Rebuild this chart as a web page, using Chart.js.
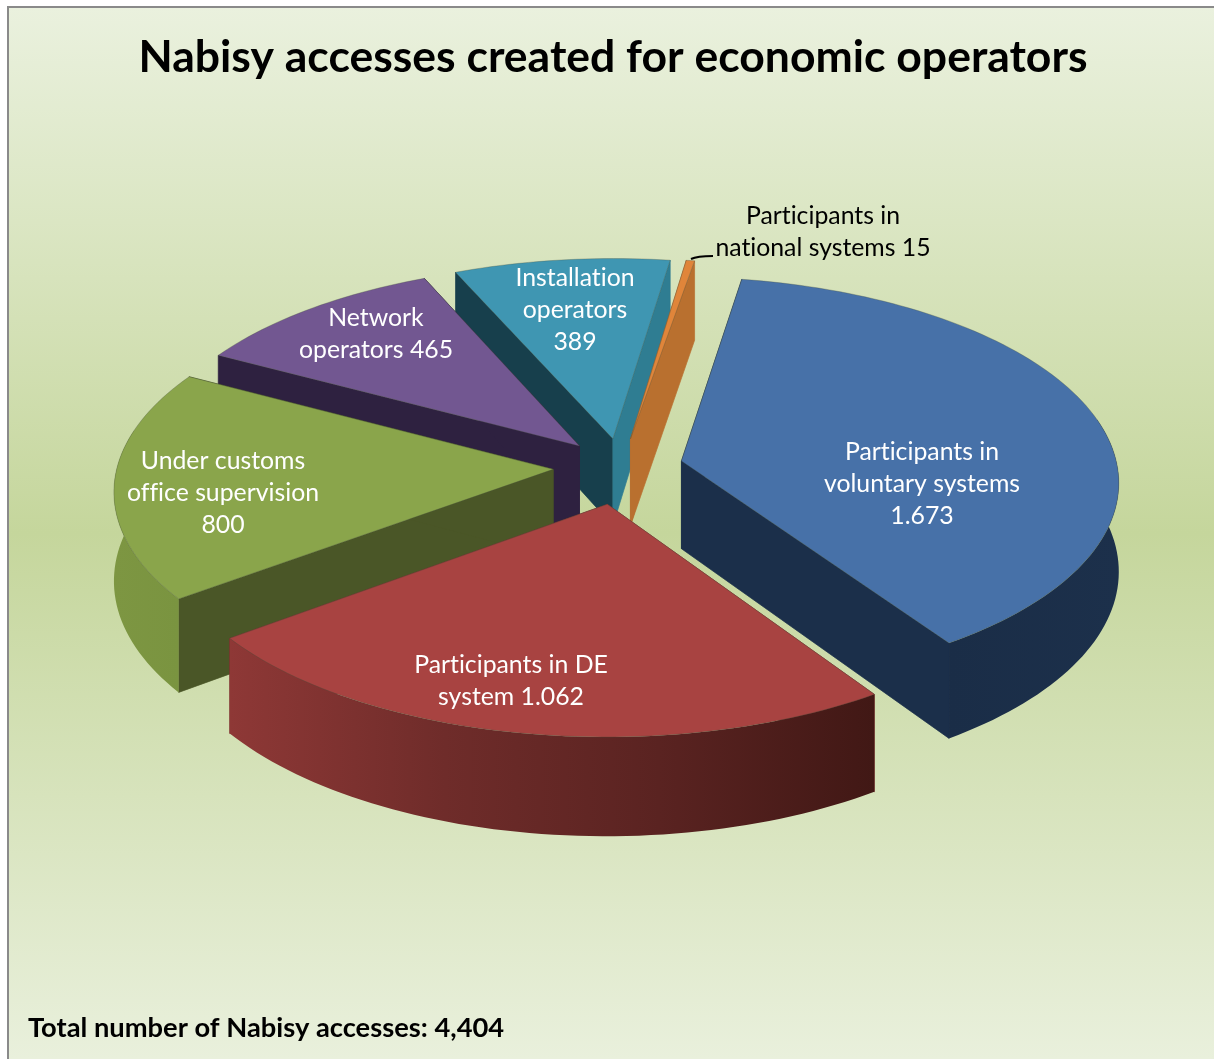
<!DOCTYPE html>
<html><head><meta charset="utf-8">
<style>html,body{margin:0;padding:0;background:#fff}canvas{display:block;font-variant-ligatures:none}</style>
<script src="https://cdn.jsdelivr.net/npm/chart.js@4"></script>
</head><body>
<div style="width:1214px;height:1059px"><canvas id="c" width="1214" height="1059"></canvas></div>
<script>
const titleText = 'Nabisy accesses created for economic operators';
const noteText = 'Total number of Nabisy accesses: 4,404';
const categories = ['Participants in voluntary systems','Participants in DE system','Under customs office supervision','Network operators','Installation operators','Participants in national systems'];
const values = [1673,1062,800,465,389,15];
const labelLines = [
  ['Participants in','voluntary systems','1.673'],
  ['Participants in DE','system 1.062'],
  ['Under customs','office supervision','800'],
  ['Network','operators 465'],
  ['Installation','operators','389'],
  ['Participants in','national systems 15']
];
const labelCentres = [[922,452],[511,665],[223,461],[376,318],[575,278],[823,216]];
const labelColours = ['#fff','#fff','#fff','#fff','#fff','#000'];
const topColours = ['#4771a8','#a84341','#8aa54b','#725791','#3f96b2','#e0853a'];
const startWall = ['#1b2f4a','#7a2f2d','#4a5627','#2e2140','#173f4c','#b36a30'];
const endWall   = ['#1b2f4a','#7a2f2d','#4a5627','#2e2140','#2f7d92','#b9702f'];
const rimStops = [
  ['#1a2d47','#1c304b'],
  ['#8e3836','#6f2c2a','#5a2321','#411815'],
  ['#7d9642','#7a9440'],
  ['#2e2140','#2e2140'],
  ['#173f4c','#173f4c'],
  ['#b36a30','#b36a30']
];
const explode = [62,80,68,62,62,62];
const paintOrder = [4,5,3,2,0,1];
const view = {cx:621, cy:467, tilt:0.465, persp:0.00022, depth:88, radius:436};

function project(x,y,z){
  const w = 1 - y*view.persp;
  return [view.cx + x/w, view.cy + (y*view.tilt + z*view.depth)/w];
}
function poly(ctx,pts){
  ctx.beginPath();
  pts.forEach((p,i)=> i?ctx.lineTo(p[0],p[1]):ctx.moveTo(p[0],p[1]));
  ctx.closePath();
}
function fillPoly(ctx,pts,fill){
  poly(ctx,pts); ctx.fillStyle=fill; ctx.fill();
  ctx.strokeStyle=fill; ctx.lineWidth=0.7; ctx.stroke();
}
const pie3d = {
  id:'pie3d',
  beforeDraw(chart){
    const ctx=chart.ctx, W=chart.width, H=chart.height;
    ctx.save();
    const g=ctx.createLinearGradient(0,7,0,H);
    g.addColorStop(0,'#eaf1de'); g.addColorStop(0.5,'#c5d69c'); g.addColorStop(1,'#e9f0dc');
    ctx.fillStyle=g; ctx.fillRect(8,7,W-8,H-7);
    ctx.fillStyle='#8a8a8a'; ctx.fillRect(7,6,W-7,2); ctx.fillRect(7,6,2,H-6);
    ctx.restore();
  },
  beforeDatasetsDraw(chart){
    const ctx=chart.ctx, meta=chart.getDatasetMeta(0);
    ctx.save();
    paintOrder.forEach(i=>{
      const a=meta.data[i], o=a.options, mid=(a.startAngle+a.endAngle)/2;
      const ox=Math.cos(mid)*o.offset, oy=Math.sin(mid)*o.offset, R=a.outerRadius;
      const n=Math.max(2,Math.ceil((a.endAngle-a.startAngle)*40));
      const rim=[], front=[];
      for(let k=0;k<=n;k++){
        const t=a.startAngle+(a.endAngle-a.startAngle)*k/n;
        const p=[ox+R*Math.cos(t),oy+R*Math.sin(t)];
        rim.push(p);
        if(Math.sin(t)>-0.22) front.push(p);
      }
      const top=rim.map(p=>project(p[0],p[1],0)), bot=rim.map(p=>project(p[0],p[1],1));
      const apexT=project(ox,oy,0), apexB=project(ox,oy,1);
      fillPoly(ctx,[apexT,top[0],bot[0],apexB],startWall[i]);
      fillPoly(ctx,[apexT,top[n],bot[n],apexB],endWall[i]);
      if(front.length>1){
        const ft=front.map(p=>project(p[0],p[1],0)), fb=front.map(p=>project(p[0],p[1],1));
        const xs=ft.map(p=>p[0]), x0=Math.min(...xs), x1=Math.max(...xs);
        const g=ctx.createLinearGradient(x0,0,x1,0);
        rimStops[i].forEach((c,k,arr)=>g.addColorStop(k/(arr.length-1),c));
        poly(ctx,ft.concat(fb.slice().reverse())); ctx.fillStyle=g; ctx.fill();
      }
      poly(ctx,[apexT].concat(top)); ctx.fillStyle=o.backgroundColor; ctx.fill();
      ctx.strokeStyle='rgba(70,80,60,0.3)'; ctx.lineWidth=1; ctx.stroke();
    });
    ctx.restore();
    return false;
  },
  afterDraw(chart){
    const ctx=chart.ctx;
    ctx.save();
    ctx.strokeStyle='#000'; ctx.lineWidth=2;
    ctx.beginPath(); ctx.moveTo(691,259); ctx.quadraticCurveTo(697,256,713,256); ctx.stroke();
    ctx.font='24.8px Lato'; ctx.textAlign='center'; ctx.textBaseline='middle';
    ctx.textRendering='optimizeSpeed';
    labelLines.forEach((lines,i)=>{
      ctx.fillStyle=labelColours[i];
      lines.forEach((s,k)=>ctx.fillText(s,labelCentres[i][0],labelCentres[i][1]+k*32));
    });
    ctx.restore();
  }
};
new Chart(document.getElementById('c'),{
  type:'pie',
  plugins:[pie3d],
  data:{labels:categories,datasets:[{data:values,backgroundColor:topColours,offset:explode,borderWidth:0}]},
  options:{
    responsive:false,animation:false,
    rotation:9.5,radius:view.radius,
    layout:{padding:{left:28,right:16,top:31,bottom:14}},
    plugins:{
      legend:{display:false},tooltip:{enabled:false},
      title:{display:true,text:titleText,color:'#000',font:{family:'Lato',size:44.5,weight:'bold'},padding:0},
      subtitle:{display:true,text:noteText,position:'bottom',align:'start',color:'#000',font:{family:'Lato',size:27.3,weight:'bold'},padding:0}
    }
  }
});
</script>
</body></html>
